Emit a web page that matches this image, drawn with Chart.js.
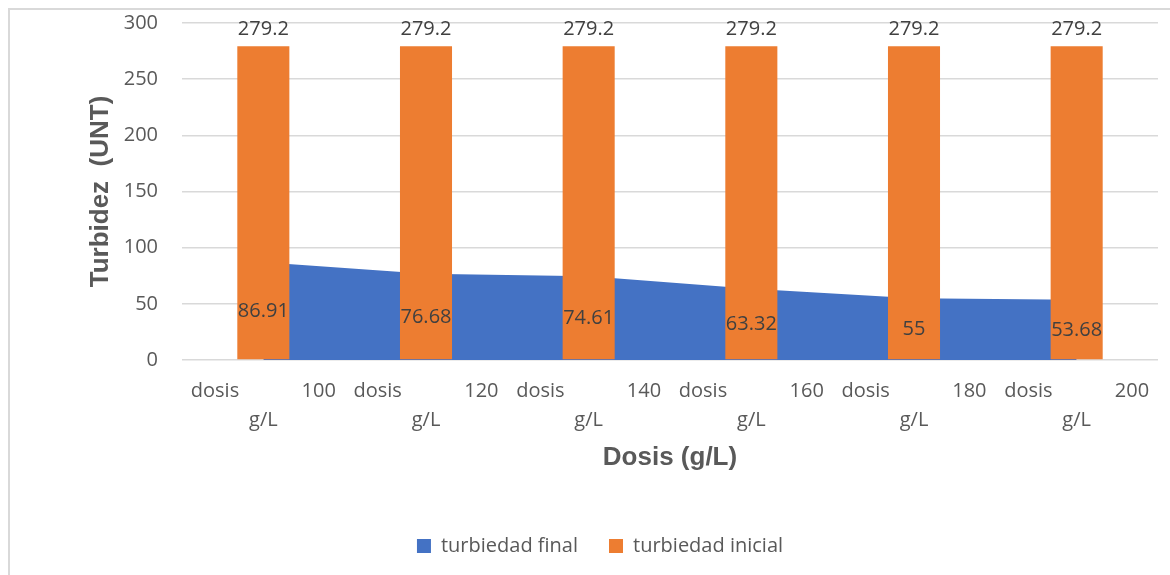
<!DOCTYPE html>
<html>
<head>
<meta charset="utf-8">
<script src="https://cdn.jsdelivr.net/npm/chart.js@4/dist/chart.umd.min.js"></script>
<style>
  html, body { margin: 0; padding: 0; background: #fff; }
  #wrap { width: 1170px; height: 575px; position: relative; }
</style>
</head>
<body>
<div id="wrap"><canvas id="c" width="1170" height="575"></canvas></div>
<script>
// ---- data ----
const doses = ["100", "120", "140", "160", "180", "200"];
const turbiedadFinal = [86.91, 76.68, 74.61, 63.32, 55, 53.68];
const turbiedadInicial = [279.2, 279.2, 279.2, 279.2, 279.2, 279.2];
const yTicks = [0, 50, 100, 150, 200, 250, 300];
const seriesNames = ["turbiedad final", "turbiedad inicial"];
const axisTitles = { x: "Dosis (g/L)", y: "Turbidez  (UNT)" };

const GAP = "            ";
const categoryLabels = doses.map(d => ["dosis" + GAP + d, "g/L"]);

const TXT = '#595959';
const LBL = '#404040';

const borderPlugin = {
  id: 'borderBg',
  beforeDraw(chart) {
    const ctx = chart.ctx;
    ctx.save();
    ctx.fillStyle = '#ffffff';
    ctx.fillRect(0, 0, chart.width, chart.height);
    ctx.strokeStyle = '#d9d9d9';
    ctx.lineWidth = 2;
    ctx.beginPath();
    ctx.moveTo(9, chart.height);
    ctx.lineTo(9, 9);
    ctx.lineTo(chart.width, 9);
    ctx.stroke();
    ctx.restore();
  }
};

const labelPlugin = {
  id: 'valueLabels',
  afterDatasetsDraw(chart) {
    const ctx = chart.ctx;
    const y = chart.scales.y;
    ctx.save();
    ctx.font = '20px "Open Sans"';
    ctx.fillStyle = LBL;
    ctx.textAlign = 'center';
    ctx.textBaseline = 'middle';
    const barMeta = chart.getDatasetMeta(1);
    barMeta.data.forEach((el, i) => {
      ctx.fillText(String(turbiedadInicial[i]), el.x, el.y - 17);
    });
    const lineMeta = chart.getDatasetMeta(0);
    lineMeta.data.forEach((el, i) => {
      const v = turbiedadFinal[i];
      ctx.fillText(String(v), el.x, y.getPixelForValue(v / 2));
    });
    ctx.restore();
  }
};

new Chart(document.getElementById('c'), {
  data: {
    labels: categoryLabels,
    datasets: [
      {
        type: 'line',
        label: seriesNames[0],
        data: turbiedadFinal,
        backgroundColor: '#4472C4',
        borderColor: '#4472C4',
        borderWidth: 0,
        pointRadius: 0,
        fill: 'origin',
        tension: 0,
        order: 2
      },
      {
        type: 'bar',
        label: seriesNames[1],
        data: turbiedadInicial,
        backgroundColor: '#ED7D31',
        borderWidth: 0,
        categoryPercentage: 1,
        barPercentage: 0.32,
        order: 1
      }
    ]
  },
  options: {
    responsive: false,
    animation: false,
    layout: { padding: { left: 42, right: 12, top: 23, bottom: 9 } },
    plugins: {
      tooltip: { enabled: false },
      legend: {
        position: 'bottom',
        labels: {
          sort: (a, b) => a.datasetIndex - b.datasetIndex,
          boxWidth: 14,
          boxHeight: 14,
          padding: 31,
          color: TXT,
          font: { family: '"Open Sans"', size: 20 },
          generateLabels(chart) {
            return chart.data.datasets.map((ds, i) => ({
              text: ds.label,
              fillStyle: ds.backgroundColor,
              strokeStyle: ds.backgroundColor,
              lineWidth: 0,
              hidden: false,
              datasetIndex: i,
              fontColor: TXT
            }));
          }
        }
      }
    },
    scales: {
      x: {
        offset: true,
        grid: { display: false, drawTicks: false },
        border: { display: false },
        ticks: {
          color: TXT,
          padding: 17,
          maxRotation: 0,
          autoSkip: false,
          font: { family: '"Open Sans"', size: 20, lineHeight: 1.45 }
        },
        title: {
          display: true,
          text: axisTitles.x,
          color: TXT,
          font: { family: '"Liberation Sans"', size: 26, weight: 'bold', lineHeight: 1.2 },
          padding: { top: 0, bottom: 32 }
        },
        afterFit(scale) { scale.height = 145; }
      },
      y: {
        min: 0,
        max: 300,
        grid: { color: '#d9d9d9', lineWidth: 1.5, drawTicks: false },
        border: { display: false },
        afterBuildTicks(scale) { scale.ticks = yTicks.map(v => ({ value: v })); },
        ticks: {
          color: TXT,
          padding: 24,
          font: { family: '"Open Sans"', size: 20 }
        },
        title: {
          display: true,
          text: axisTitles.y,
          color: TXT,
          font: { family: '"Liberation Sans"', size: 26, weight: 'bold', lineHeight: 1.2 },
          padding: { top: 43, bottom: 0 }
        },
        afterFit(scale) {
          scale.width = 140;
          scale.paddingTop = 12;
          scale.paddingBottom = 12;
        }
      }
    }
  },
  plugins: [borderPlugin, labelPlugin]
});
</script>
</body>
</html>
